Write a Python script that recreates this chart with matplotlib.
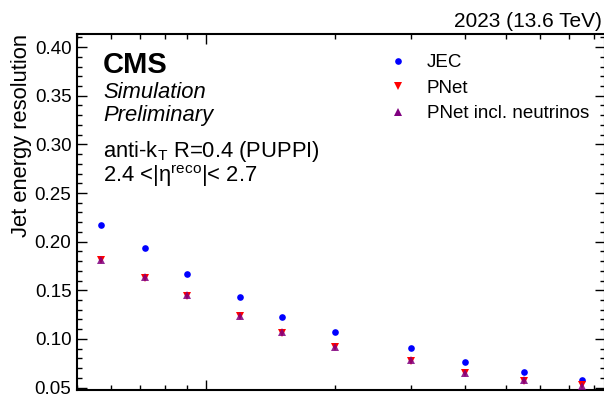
import matplotlib
matplotlib.use("Agg")
import matplotlib.pyplot as plt
from matplotlib.ticker import MultipleLocator, LogLocator, NullFormatter, FormatStrFormatter
from matplotlib.lines import Line2D

plt.rcParams["font.family"] = ["Liberation Sans", "DejaVu Sans"]
plt.rcParams["mathtext.fontset"] = "custom"
plt.rcParams["mathtext.rm"] = "Liberation Sans"
plt.rcParams["mathtext.it"] = "Liberation Sans:italic"

# jet pT bin centres (GeV) and resolution per method
pt = [57, 72, 90, 120, 150, 200, 300, 400, 550, 750]
res_jec = [0.217, 0.193, 0.167, 0.143, 0.123, 0.107, 0.091, 0.076, 0.066, 0.058]
res_pnet = [0.181, 0.163, 0.144, 0.124, 0.106, 0.092, 0.077, 0.065, 0.057, 0.053]
res_pnet_nu = [0.181, 0.164, 0.145, 0.124, 0.107, 0.092, 0.078, 0.065, 0.058, 0.052]
labels = ["JEC", "PNet", "PNet incl. neutrinos"]

W, H = 604, 394
fig = plt.figure(figsize=(W / 100, H / 100), dpi=100)
ax = fig.add_axes([77 / W, 4 / H, 528 / W, 356 / H])

ax.plot(pt, res_jec, "o", color="blue", ms=4.8, mew=0, zorder=3)
ax.plot(pt, res_pnet, "v", color="red", ms=5.4, mew=0, zorder=3)
ax.plot(pt, res_pnet_nu, "^", color="purple", ms=5.4, mew=0, alpha=0.85, zorder=4)

ax.set_xscale("log")
ax.set_xlim(50, 850)
ax.set_ylim(0.0475, 0.4135)
ax.yaxis.set_major_locator(MultipleLocator(0.05))
ax.yaxis.set_minor_locator(MultipleLocator(0.01))
ax.xaxis.set_major_locator(LogLocator(base=10))
ax.xaxis.set_minor_locator(LogLocator(base=10, subs=range(2, 10)))
ax.xaxis.set_major_formatter(NullFormatter())
ax.xaxis.set_minor_formatter(NullFormatter())
ax.yaxis.set_major_formatter(FormatStrFormatter("%.2f"))

ax.tick_params(which="both", direction="in", top=True, right=True, width=1.0, labelsize=13.5)
ax.tick_params(which="major", length=7.2, pad=4)
ax.tick_params(which="minor", length=3.6)
for s in ax.spines.values():
    s.set_linewidth(1.5)

ax.set_ylabel("Jet energy resolution", fontsize=15.8, loc="top", labelpad=2)

# CMS label block
fig.text(103 / W, 1 - 73 / H, "CMS", fontsize=21, fontweight="bold", va="baseline")
fig.text(103 / W, 1 - 98 / H, "Simulation", fontsize=15.8, style="italic", va="baseline")
fig.text(103 / W, 1 - 121 / H, "Preliminary", fontsize=15.8, style="italic", va="baseline")
fig.text(103 / W, 1 - 157 / H, r"anti-k$_\mathrm{T}$ R=0.4 (PUPPI)", fontsize=15.8, va="baseline")
fig.text(103 / W, 1 - 182 / H, r"2.4 <|$\mathrm{\eta}^\mathrm{reco}$|< 2.7", fontsize=15.8, va="baseline")
fig.text(602 / W, 1 - 27 / H, "2023 (13.6 TeV)", fontsize=15, ha="right", va="baseline")

handles = [
    Line2D([], [], marker="o", color="blue", ms=4.8, mew=0, lw=0),
    Line2D([], [], marker="v", color="red", ms=5.4, mew=0, lw=0),
    Line2D([], [], marker="^", color="purple", ms=5.4, mew=0, lw=0),
]
ax.legend(handles, labels, loc="upper left", bbox_to_anchor=(0.565, 0.965), frameon=False,
          fontsize=13.5, handlelength=1.63, handletextpad=0.72, labelspacing=0.45, borderaxespad=0)

fig.savefig("out.png", dpi=100)
